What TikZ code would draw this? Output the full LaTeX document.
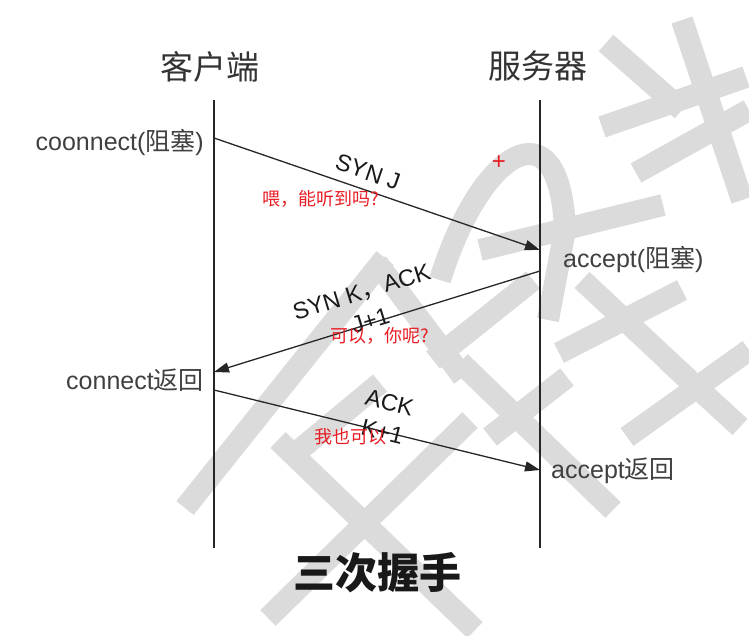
\documentclass[tikz,border=0pt]{standalone}
\usepackage{fontspec}
\setmainfont{Liberation Sans}
\newfontfamily\cjk{Noto Sans CJK SC}
\usetikzlibrary{arrows.meta}
\definecolor{wmark}{gray}{0.86}
\definecolor{notered}{RGB}{232,28,36}
\definecolor{ink}{gray}{0.15}

\begin{document}
\begin{tikzpicture}[x=1pt,y=-1pt,
  lifeline/.style={draw=ink,line width=1.3pt},
  msg/.style={draw=black!85,line width=1.3pt,-{Triangle[length=15pt,width=10pt]}},
  sidelbl/.style={inner sep=0pt,text=black!75,font=\fontsize{25}{30}\selectfont},
  msglbl/.style={inner sep=0pt,align=center,text=black!90,font=\fontsize{23.5}{30}\selectfont},
  note/.style={inner sep=0pt,text=notered,font=\cjk\fontsize{18}{22}\selectfont},
  title/.style={inner sep=0pt,text=black!80,font=\cjk\fontsize{33}{40}\selectfont},
  wm/.style={draw=wmark,line width=22pt}]
\path[use as bounding box] (0,0) rectangle (749,636);
% watermark in the background
\draw[wm] (185,508) -- (385,258);
\draw[wm] (278,440) -- (475,630);
\draw[wm] (268,618) -- (470,420);
\draw[wm] (377,263) -- (463,377);
\draw[wm] (297,452) -- (380,383);
\draw[wm] (460,362) -- (613,510);
\draw[wm] (490,437) -- (567,377);
\draw[wm] (627,437) -- (749,350);
\draw[wm] (667,360) -- (740,427);
\draw[wm] (440,280) .. controls (480,150) and (560,100) .. (565,230) -- (548,320);
\draw[wm] (480,250) -- (663,205);
\draw[wm] (606,43) -- (682,110);
\draw[wm] (602,127) -- (746,77);
\draw[wm] (682,20) -- (742,200);
\draw[wm] (636,173) -- (749,110);
\draw[wm] (582,280) -- (689,380);
\draw[wm] (559,353) -- (682,290);
\draw[wm] (433,360) -- (533,280);
% lifelines
\node[title] (client) at (210,67) {客户端};
\node[title] (server) at (538,66) {服务器};
\coordinate (ctop) at (214,100);
\coordinate (cbot) at (214,548);
\coordinate (stop) at (540,100);
\coordinate (sbot) at (540,548);
\draw[lifeline] (ctop) -- (cbot);
\draw[lifeline] (stop) -- (sbot);
% message end points
\coordinate (c1) at (214,138);
\coordinate (s1) at (540,250);
\coordinate (s2) at (540,271);
\coordinate (c2) at (214,372);
\coordinate (c3) at (214,390);
\coordinate (s3) at (540,470);
\draw[msg] (c1) -- (s1);
\draw[msg] (s2) -- (c2);
\draw[msg] (c3) -- (s3);
% side labels
\node[sidelbl,anchor=east] (cconn) at (204,143) {coonnect({\cjk 阻塞})};
\node[sidelbl,anchor=west] (sacc) at (563,260) {accept({\cjk 阻塞})};
\node[sidelbl,anchor=east] (cret) at (204,380) {connect{\cjk 返回}};
\node[sidelbl,anchor=west] (sret) at (551,471) {accept{\cjk 返回}};
% message labels
\node[msglbl,rotate=-19] (synj) at (368,172) {SYN J};
\node[msglbl,rotate=17] (synk) at (366,306) {SYN K{\cjk ，}ACK\\J+1};
\node[msglbl,rotate=-14] (ackk) at (386,417) {ACK\\K+1};
% red notes
\node[note] (hello) at (321,199) {喂，能听到吗?};
\node[note] (reply) at (380,336) {可以，你呢?};
\node[note] (metoo) at (350,437) {我也可以};
\node[inner sep=0pt,text=notered,font=\fontsize{24}{24}\selectfont] (plus) at (499,163) {+};
\node[inner sep=0pt,text=black!90,font=\cjk\bfseries\fontsize{42}{50}\selectfont] (caption) at (377,573) {三次握手};
\end{tikzpicture}
\end{document}
